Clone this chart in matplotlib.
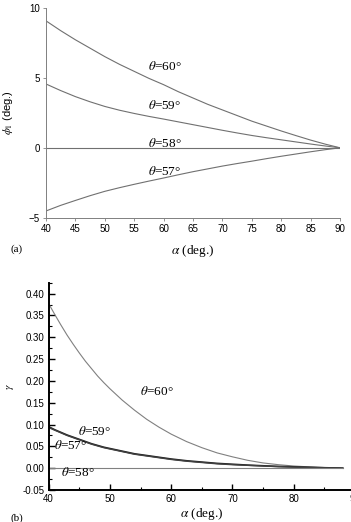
import matplotlib
matplotlib.use("Agg")
import matplotlib.pyplot as plt
from matplotlib.ticker import MultipleLocator

plt.rcParams["mathtext.fontset"] = "stix"

# panel (a): phi_1 vs alpha
alpha_a = [40, 42.5, 45, 47.5, 50, 52.5, 55, 57.5, 60, 62.5, 65, 67.5, 70,
           72.5, 75, 77.5, 80, 82.5, 85, 87.5, 90]
phi_60 = [9.05, 8.35, 7.7, 7.1, 6.5, 5.95, 5.45, 4.95, 4.5, 4.0, 3.55, 3.1,
          2.7, 2.3, 1.9, 1.55, 1.2, 0.87, 0.55, 0.26, 0.0]
phi_59 = [4.55, 4.08, 3.65, 3.28, 2.95, 2.68, 2.45, 2.24, 2.05, 1.85, 1.65,
          1.45, 1.25, 1.06, 0.88, 0.72, 0.57, 0.42, 0.27, 0.13, 0.0]
phi_58 = [0.0] * 21
phi_57 = [-4.5, -4.1, -3.75, -3.41, -3.1, -2.84, -2.6, -2.37, -2.15, -1.92,
          -1.7, -1.5, -1.3, -1.12, -0.95, -0.77, -0.6, -0.44, -0.28, -0.13, 0.0]

# panel (b): gamma vs alpha
alpha_b = [40, 41, 42, 43, 44, 45, 46, 47, 48, 49, 50, 52, 54, 56, 58, 60,
           62.5, 65, 67.5, 70, 72.5, 75, 77.5, 80, 82.5, 85, 87.5, 88]
gam_60 = [0.377, 0.352, 0.328, 0.305, 0.284, 0.264, 0.245, 0.228, 0.211,
          0.196, 0.182, 0.156, 0.133, 0.112, 0.094, 0.078, 0.061, 0.047,
          0.035, 0.026, 0.018, 0.012, 0.008, 0.005, 0.003, 0.0015, 0.0004, 0.0]
gam_59 = [0.095, 0.088, 0.082, 0.076, 0.071, 0.066, 0.061, 0.056, 0.052,
          0.048, 0.045, 0.039, 0.033, 0.029, 0.025, 0.021, 0.017, 0.014,
          0.011, 0.009, 0.007, 0.0055, 0.004, 0.003, 0.002, 0.001, 0.0003, 0.0]
gam_57 = [0.093, 0.087, 0.081, 0.075, 0.070, 0.065, 0.060, 0.055, 0.051,
          0.047, 0.044, 0.038, 0.032, 0.028, 0.024, 0.020, 0.016, 0.013,
          0.010, 0.008, 0.0065, 0.005, 0.0035, 0.0025, 0.0015, 0.0008, 0.0002, 0.0]
gam_58 = [0.0] * 28

sans = "Liberation Sans"
serif = "Liberation Serif"

fig = plt.figure(figsize=(3.51, 5.22), dpi=100)

# ---- top panel
ax1 = fig.add_axes([0.131, 0.5824, 0.838, 0.4032])
for y in (phi_60, phi_59, phi_58, phi_57):
    ax1.plot(alpha_a, y, color="#707070", lw=0.8)
ax1.set_xlim(40, 90)
ax1.set_ylim(-5, 10)
ax1.set_xticks(range(40, 91, 5))
ax1.set_yticks([-5, 0, 5, 10])
for s in ("top", "right"):
    ax1.spines[s].set_visible(False)
for s in ("left", "bottom"):
    ax1.spines[s].set_color("#808080")
    ax1.spines[s].set_linewidth(0.7)
ax1.tick_params(direction="out", length=2.5, width=0.6, color="#808080",
                labelsize=7, pad=2)
for lab in ax1.get_xticklabels() + ax1.get_yticklabels():
    lab.set_fontfamily(sans)
ax1.set_xlabel(r"$\alpha$ (deg.)", fontsize=9.5, family=serif, labelpad=6)
ax1.set_ylabel(r"$\phi_1$ (deg.)", fontsize=8, family=sans, labelpad=10)
ax1.text(57.3, 5.8, r"$\theta$=60°", fontsize=9.5, family=serif, va="center")
ax1.text(57.3, 3.05, r"$\theta$=59°", fontsize=9.5, family=serif, va="center")
ax1.text(57.3, 0.33, r"$\theta$=58°", fontsize=9.5, family=serif, va="center")
ax1.text(57.3, -1.7, r"$\theta$=57°", fontsize=9.5, family=serif, va="center")
fig.text(0.03, 0.518, "(a)", fontsize=8, family=serif)

# ---- bottom panel
ax2 = fig.add_axes([0.1387, 0.0613, 0.8727, 0.3971])
ax2.plot(alpha_b, gam_60, color="#808080", lw=0.8)
ax2.plot(alpha_b, gam_59, color="#202020", lw=1.2)
ax2.plot(alpha_b, gam_57, color="#404040", lw=1.0)
ax2.plot(alpha_b, gam_58, color="#808080", lw=0.8)
ax2.set_xlim(40, 90)
ax2.set_ylim(-0.05, 0.425)
ax2.set_xticks(range(40, 91, 10))
ax2.set_yticks([i * 0.05 for i in range(-1, 9)])
ax2.xaxis.set_minor_locator(MultipleLocator(5))
ax2.yaxis.set_minor_locator(MultipleLocator(0.025))
for s in ("top", "right"):
    ax2.spines[s].set_visible(False)
for s in ("left", "bottom"):
    ax2.spines[s].set_linewidth(1.4)
ax2.tick_params(which="major", direction="in", length=4, width=1.0,
                labelsize=7, pad=3)
ax2.tick_params(which="minor", direction="in", length=2.5, width=0.8)
ax2.set_yticklabels(["%.2f" % (i * 0.05) for i in range(-1, 9)])
for lab in ax2.get_xticklabels() + ax2.get_yticklabels():
    lab.set_fontfamily(sans)
ax2.set_xlabel(r"$\alpha$ (deg.)", fontsize=9.5, family=serif, labelpad=1)
ax2.set_ylabel(r"$\gamma$", fontsize=8, family=sans, labelpad=5)
ax2.text(54.9, 0.175, r"$\theta$=60°", fontsize=9.5, family=serif, va="center")
ax2.text(44.8, 0.084, r"$\theta$=59°", fontsize=9.5, family=serif, va="center")
ax2.text(40.8, 0.052, r"$\theta$=57°", fontsize=9.5, family=serif, va="center")
ax2.text(42.0, -0.011, r"$\theta$=58°", fontsize=9.5, family=serif, va="center")
fig.text(0.03, 0.003, "(b)", fontsize=8, family=serif)

fig.savefig("out.png", dpi=100)
